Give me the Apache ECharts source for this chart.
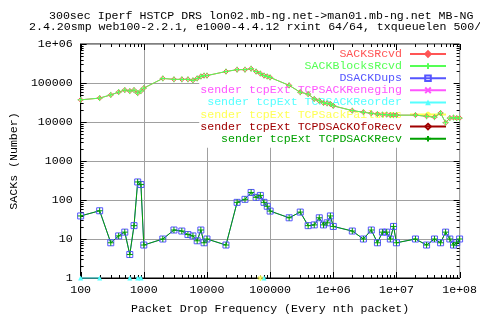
<!DOCTYPE html>
<html>
<head>
<meta charset="utf-8">
<script src="https://cdn.jsdelivr.net/npm/echarts@6/dist/echarts.min.js"></script>
<style>
html, body { margin: 0; padding: 0; background: #fff; }
#chart { width: 480px; height: 320px; }
</style>
</head>
<body>
<div id="chart"></div>
<script>
// packet drop frequency (every nth packet)
var xs = [100, 200, 300, 400, 500, 600, 700, 800, 900,
          1000, 2000, 3000, 4000, 5000, 6000, 7000, 8000, 9000,
          10000, 20000, 30000, 40000, 50000, 60000, 70000, 80000, 90000,
          100000, 200000, 300000, 400000, 500000, 600000, 700000, 800000, 900000,
          1000000, 2000000, 3000000, 4000000, 5000000, 6000000, 7000000, 8000000, 9000000,
          10000000, 20000000, 30000000, 40000000, 50000000, 60000000, 70000000, 80000000, 90000000,
          100000000];

var sacksRcvd = [37000, 41000, 49500, 58500, 66000, 62000, 66000, 55000, 62000,
                 74000, 131000, 124000, 124000, 124000, 117000, 131000, 147000, 155000,
                 155000, 197000, 220000, 220000, 233000, 197000, 175000, 155000, 147000,
                 139000, 87000, 58000, 52000, 39000, 35000, 31000, 30000, 29000,
                 26000, 19600, 17800, 16700, 16000, 15500, 15500, 15000, 15000,
                 15000, 15000, 14000, 13300, 17000, 9600, 12600, 13000, 12600,
                 12600];
var sackBlocksRcvd = [37000, 41000, 49500, 58500, 66000, 62000, 66000, 55000, 62000,
                      74000, 131000, 124000, 124000, 124000, 117000, 131000, 147000, 155000,
                      155000, 197000, 220000, 220000, 233000, 197000, 175000, 155000, 147000,
                      139000, 87000, 58000, 52000, 39000, 35000, 31000, 30000, 29000,
                      26000, 19600, 17800, 16700, 16000, 15500, 15500, 15000, 15000,
                      15000, 15000, 14000, 13300, 17000, 9600, 12600, 13000, 12600,
                      12600];
var dsackDups = [39, 53, 8, 12, 15, 4, 22, 290, 250,
                 7, 10, 17, 16, 13, 12, 9, 17, 8,
                 10, 7, 87, 104, 156, 117, 131, 87, 69,
                 52, 35, 49, 22, 23, 35, 23, 26, 39,
                 21, 16, 10, 17, 8, 15, 15, 10, 21,
                 8, 10, 7, 10, 8, 15, 10, 7, 8,
                 10];
var sackReneging = [0, 0, 0, 0, 0, 0, 0, 0, 0,
                    0, 0, 0, 0, 0, 0, 0, 0, 0,
                    0, 0, 0, 0, 0, 0, 0, 0, 0,
                    0, 0, 0, 0, 0, 0, 0, 0, 0,
                    0, 0, 0, 0, 0, 0, 0, 0, 0,
                    0, 0, 0, 0, 0, 0, 0, 0, 0,
                    0];
var sackReorder = [1, 1, 0, 0, 0, 1, 0, 1, 1,
                   0, 0, 0, 0, 0, 0, 0, 0, 0,
                   0, 0, 0, 0, 0, 0, 0, 1, 0,
                   0, 0, 0, 0, 0, 0, 0, 0, 0,
                   0, 0, 0, 0, 0, 0, 0, 0, 0,
                   0, 0, 0, 0, 0, 0, 0, 0, 0,
                   0];
var sackFailures = [0, 0, 0, 0, 0, 0, 0, 0, 0,
                    0, 0, 0, 0, 0, 0, 0, 0, 0,
                    0, 0, 0, 0, 0, 0, 1, 0, 0,
                    0, 0, 0, 0, 0, 0, 0, 0, 0,
                    0, 0, 0, 0, 0, 0, 0, 0, 0,
                    0, 0, 0, 0, 0, 0, 0, 0, 0,
                    0];
var dsackOfoRecv = [0, 0, 0, 0, 0, 0, 0, 0, 0,
                    0, 0, 0, 0, 0, 0, 0, 0, 0,
                    0, 0, 0, 0, 0, 0, 0, 0, 0,
                    0, 0, 0, 0, 0, 0, 0, 0, 0,
                    0, 0, 0, 0, 0, 0, 0, 0, 0,
                    0, 0, 0, 0, 0, 0, 0, 0, 0,
                    0];
var dsackRecv = [39, 53, 8, 12, 15, 4, 22, 290, 250,
                 7, 10, 17, 16, 13, 12, 9, 17, 8,
                 10, 7, 87, 104, 156, 117, 131, 87, 69,
                 52, 35, 49, 22, 23, 35, 23, 26, 39,
                 21, 16, 10, 17, 8, 15, 15, 10, 21,
                 8, 10, 7, 10, 8, 15, 10, 7, 8,
                 10];

var names = ['SACKSRcvd', 'SACKBlocksRcvd', 'DSACKDups',
             'sender tcpExt TCPSACKReneging', 'sender tcpExt TCPSACKReorder',
             'sender tcpExt TCPSackFailures', 'sender tcpExt TCPDSACKOfoRecv',
             'sender tcpExt TCPDSACKRecv'];
var values = [sacksRcvd, sackBlocksRcvd, dsackDups, sackReneging, sackReorder,
              sackFailures, dsackOfoRecv, dsackRecv];
var colors = ['#ff5555', '#55ff55', '#5555ff', '#ff55ff', '#55ffff', '#ffff55', '#a00000', '#00a000'];

var yTicks = [1, 10, 100, 1000, 10000, 100000, 1000000];
var xTicks = [100, 1000, 10000, 100000, 1000000, 10000000, 100000000];

var FONT = 'Liberation Mono';
var FS = 11.6;

// gnuplot point types
var symbols = [
    'path://M3,0L6,3L3,6L0,3Z',           // diamond
    'path://M3,0V6M0,3H6',                 // plus
    'path://M0,0H6V6H0Z',                  // box
    'path://M0,0L6,6M6,0L0,6',             // cross
    'triangle',
    'path://M3,0V6M0,3H6M1,1L5,5M5,1L1,5', // star
    'path://M3,0L6,3L3,6L0,3Z',
    'path://M3,0V6M0,3H6'
];
var symSizes = [5, 6, 6, 5, 5, 6, 5, 6];

function tickLabel(v) {
    if (v >= 1000000) return '1e+0' + Math.round(Math.log10(v));
    return String(v);
}

var chart = echarts.init(document.getElementById('chart'));

var series = names.map(function (n, i) {
    var filled = symbols[i] === 'triangle';
    return {
        name: n,
        type: 'line',
        clip: false,
        symbol: symbols[i],
        symbolSize: symSizes[i],
        showAllSymbol: true,
        animation: false,
        lineStyle: { color: colors[i], width: 1 },
        itemStyle: filled ? { color: colors[i] } :
            { color: 'rgba(0,0,0,0)', borderColor: colors[i], borderWidth: 1 },
        emphasis: { disabled: true },
        data: xs.map(function (x, k) {
            return [x, values[i][k] > 0 ? values[i][k] : null];
        })
    };
});

// minor/major ticks on all four sides, gnuplot style
var xTickData = [], yTickData = [];
xTicks.forEach(function (p, k) {
    xTickData.push([p, 1, 1]);
    if (k < xTicks.length - 1) for (var m = 2; m <= 9; m++) xTickData.push([p * m, 1, 0]);
});
yTicks.forEach(function (p, k) {
    yTickData.push([100, p, 1]);
    if (k < yTicks.length - 1) for (var m = 2; m <= 9; m++) yTickData.push([100, p * m, 0]);
});

function line(x1, y1, x2, y2) {
    return { type: 'line', shape: { x1: x1, y1: y1, x2: x2, y2: y2 }, style: { stroke: '#000', lineWidth: 1 } };
}

series.push({
    type: 'custom', silent: true, clip: false, animation: false,
    encode: { x: 0, y: 1 },
    data: xTickData,
    renderItem: function (params, api) {
        var len = api.value(2) ? 6 : 3;
        var b = api.coord([api.value(0), 1]);
        var t = api.coord([api.value(0), 1000000]);
        var x = Math.round(b[0]) + 0.5;
        return { type: 'group', children: [line(x, b[1], x, b[1] - len), line(x, t[1], x, t[1] + len)] };
    }
});
series.push({
    type: 'custom', silent: true, clip: false, animation: false,
    encode: { x: 0, y: 1 },
    data: yTickData,
    renderItem: function (params, api) {
        var len = api.value(2) ? 6 : 3;
        var l = api.coord([100, api.value(1)]);
        var r = api.coord([100000000, api.value(1)]);
        var y = Math.round(l[1]) + 0.5;
        return { type: 'group', children: [line(l[0], y, l[0] + len, y), line(r[0], y, r[0] - len, y)] };
    }
});

var option = {
    animation: false,
    textStyle: { fontFamily: FONT },
    title: [{
        text: '300sec Iperf HSTCP DRS lon02.mb-ng.net->man01.mb-ng.net MB-NG',
        left: 49, top: 10, padding: 0,
        textStyle: { fontFamily: FONT, fontSize: FS, fontWeight: 'normal', color: '#000', lineHeight: 11 }
    }, {
        text: '2.4.20smp web100-2.2.1, e1000-4.4.12 rxint 64/64, txqueuelen 500/',
        left: 29, top: 21, padding: 0,
        textStyle: { fontFamily: FONT, fontSize: FS, fontWeight: 'normal', color: '#000', lineHeight: 11 }
    }],
    grid: {
        left: 72, right: 18, top: 44, bottom: 34,
        show: true, borderColor: '#000', borderWidth: 1, backgroundColor: 'transparent'
    },
    legend: {
        orient: 'vertical', align: 'right',
        right: 23, top: 45,
        padding: [3, 10, 3, 1],
        backgroundColor: '#fff',
        z: 1,
        itemWidth: 36, itemHeight: 7, itemGap: 0.1,
        selectedMode: false,
        textStyle: { fontFamily: FONT, fontSize: FS, lineHeight: 11.1, padding: [0, 3, 0, 0] },
        data: names.map(function (n, i) { return { name: n, textStyle: { color: colors[i] } }; })
    },
    xAxis: {
        type: 'log', logBase: 10, min: 100, max: 100000000,
        name: 'Packet Drop Frequency (Every nth packet)',
        nameLocation: 'middle', nameGap: 25,
        nameTextStyle: { fontFamily: FONT, fontSize: FS, color: '#000' },
        axisLine: { lineStyle: { color: '#000' } },
        axisTick: { show: false },
        axisLabel: { margin: 6, fontFamily: FONT, fontSize: FS, color: '#000', formatter: tickLabel, showMinLabel: true, showMaxLabel: true },
        splitLine: { show: true, lineStyle: { color: '#a0a0a0', width: 1 } },
        minorTick: { show: false }
    },
    yAxis: {
        type: 'log', logBase: 10, min: 1, max: 1000000,
        name: 'SACKs (Number)',
        nameLocation: 'middle', nameGap: 56, nameRotate: 90,
        nameTextStyle: { fontFamily: FONT, fontSize: FS, color: '#000' },
        axisLine: { lineStyle: { color: '#000' } },
        axisTick: { show: false },
        axisLabel: { margin: 8, fontFamily: FONT, fontSize: FS, color: '#000', formatter: tickLabel, showMinLabel: true, showMaxLabel: true },
        splitLine: { show: true, lineStyle: { color: '#a0a0a0', width: 1 } }
    },
    series: series
};

chart.setOption(option);
</script>
</body>
</html>
